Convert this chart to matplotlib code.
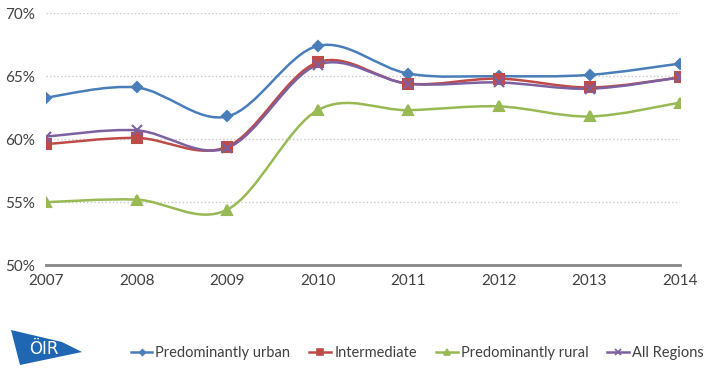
import numpy as np
import matplotlib.pyplot as plt
from matplotlib.path import Path
from matplotlib.patches import PathPatch, Polygon
from matplotlib.lines import Line2D

years = [2007, 2008, 2009, 2010, 2011, 2012, 2013, 2014]
urban = [63.3, 64.1, 61.8, 67.4, 65.2, 65.0, 65.1, 66.0]
intermediate = [59.6, 60.1, 59.4, 66.1, 64.4, 64.8, 64.1, 64.9]
rural = [55.0, 55.2, 54.4, 62.3, 62.3, 62.6, 61.8, 62.9]
all_regions = [60.2, 60.7, 59.3, 65.9, 64.4, 64.5, 64.0, 64.9]
names = ['Predominantly urban', 'Intermediate', 'Predominantly rural', 'All Regions']

colors = ['#4a7ebb', '#be4b48', '#98b954', '#7d60a0']
markers = ['D', 's', '^', 'x']
msizes = [5, 7, 7, 7]

plt.rcParams['font.family'] = ['Lato', 'DejaVu Sans']

def smooth_path(x, y):
    # excel-style smoothed line: cubic bezier, catmull-rom control points
    pts = np.column_stack([x, y]).astype(float)
    verts = [pts[0]]
    codes = [Path.MOVETO]
    n = len(pts)
    for i in range(n - 1):
        p0 = pts[i - 1] if i > 0 else pts[i]
        p1 = pts[i]
        p2 = pts[i + 1]
        p3 = pts[i + 2] if i + 2 < n else pts[i + 1]
        verts += [p1 + (p2 - p0) / 6, p2 - (p3 - p1) / 6, p2]
        codes += [Path.CURVE4] * 3
    return Path(verts, codes)

fig = plt.figure(figsize=(7.07, 3.86), dpi=100)
ax = fig.add_axes([0.065, 0.313, 0.897, 0.653])

series = [urban, intermediate, rural, all_regions]
handles = []
for vals, c, m, ms, nm in zip(series, colors, markers, msizes, names):
    ax.add_patch(PathPatch(smooth_path(years, vals), fill=False, edgecolor=c, lw=1.8, zorder=3))
    ax.plot(years, vals, ls='none', marker=m, ms=ms, color=c, mec=c, mew=1.5, zorder=4)
    handles.append(Line2D([], [], color=c, lw=1.8, marker=m, ms=ms - 2, mew=1.2))

ax.set_xlim(2007, 2014)
ax.set_ylim(50, 70)
ax.set_yticks([50, 55, 60, 65, 70])
ax.set_yticklabels(['50%', '55%', '60%', '65%', '70%'])
ax.set_xticks(years)
ax.grid(axis='y', color='#c8c8c8', ls=':', lw=1)
ax.set_axisbelow(True)
for s in ['top', 'right', 'left']:
    ax.spines[s].set_visible(False)
ax.spines['bottom'].set_color('#868686')
ax.spines['bottom'].set_linewidth(2)
ax.tick_params(length=0, labelsize=11, colors='#404040', pad=6)
ax.tick_params(axis='y', pad=8)

fig.legend(handles, names, loc='center', bbox_to_anchor=(0.59, 0.085), ncol=4,
           frameon=False, fontsize=10.5, handlelength=1.5, handletextpad=0.2,
           columnspacing=1.3, labelcolor='#404040', borderpad=0)

# logo
px = lambda x, y: (x / 707, 1 - y / 386)
logo = Polygon([px(11, 330), px(62, 342), px(82, 352), px(20, 365)], closed=True,
               facecolor='#1f66b3', edgecolor='none', transform=fig.transFigure)
fig.patches.append(logo)
fig.text(*px(44, 349), 'ÖIR', color='white', fontsize=12, ha='center', va='center',
         family='DejaVu Sans')

plt.savefig('out.png')
